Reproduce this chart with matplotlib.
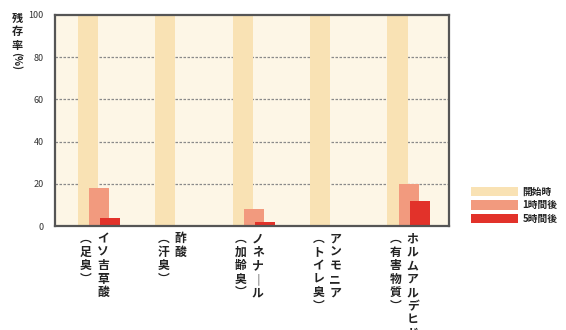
import matplotlib
matplotlib.use("Agg")
import matplotlib.pyplot as plt
import numpy as np

plt.rcParams['font.family'] = ['Noto Sans CJK JP', 'DejaVu Sans']

categories = ["イソ吉草酸", "酢酸", "ノネナール", "アンモニア", "ホルムアルデヒド"]
subtitles = ["(足臭)", "(汗臭)", "(加齢臭)", "(トイレ臭)", "(有害物質)"]
series_names = ["開始時", "1時間後", "5時間後"]
start_vals = [100, 100, 100, 100, 100]
hour1_vals = [18, 0, 8, 0, 20]
hour5_vals = [4, 0, 2, 0, 12]
yticks = [0, 20, 40, 60, 80, 100]

colors = ["#F9E2B4", "#F29A7E", "#E2322A"]

def vert(s):
    s = s.replace("(", "︵").replace(")", "︶").replace("ー", "｜")
    return "\n".join(list(s))

fig = plt.figure(figsize=(5.66, 3.30), dpi=100)
ax = fig.add_axes([55/566, 1-226/330, (449-55)/566, (226-15)/330])
ax.set_facecolor("#FDF6E6")

x = np.arange(len(categories))
w = 0.26
ax.bar(x - 0.145, start_vals, w, color=colors[0], zorder=3, label=series_names[0])
ax.bar(x, hour1_vals, w, color=colors[1], zorder=4, label=series_names[1])
ax.bar(x + 0.14, hour5_vals, w, color=colors[2], zorder=5, label=series_names[2])

ax.set_ylim(0, 100)
ax.set_xlim(-0.57, 4.52)
ax.set_yticks(yticks)
ax.set_yticklabels([str(t) for t in yticks], fontsize=6.5, color="#333333")
ax.tick_params(axis='y', length=0, pad=8)
ax.set_xticks([])
for t in [20, 40, 60, 80]:
    ax.axhline(t, color="#8a8a8a", lw=0.9, ls=(0, (2, 1.2)), zorder=2)
for s in ax.spines.values():
    s.set_color("#555555")
    s.set_linewidth(1.6)
    s.set_zorder(10)

# category labels (vertical writing)
for i, (c, sub) in enumerate(zip(categories, subtitles)):
    ax.text(i + 0.05, -3, vert(c), transform=ax.transData, ha='center', va='top',
            fontsize=8.5, linespacing=1.05, color="#222222", fontweight='bold', clip_on=False)
    ax.text(i - 0.17, -3, vert(sub), transform=ax.transData, ha='center', va='top',
            fontsize=8.5, linespacing=1.05, color="#222222", fontweight='bold', clip_on=False)

# y-axis label
fig.text(17/566, 1-12/330, "残\n存\n率", ha='center', va='top', fontsize=8,
         linespacing=1.05, color="#222222", fontweight='bold')
fig.text(17/566, 1-52/330, "(%)", ha='center', va='top', fontsize=7.5,
         rotation=270, color="#222222", fontweight='bold')

leg = fig.legend(loc='upper left', bbox_to_anchor=(466/566, 1-182/330), frameon=False,
                 fontsize=7, handlelength=4.8, handleheight=1.1, handletextpad=0.5,
                 labelspacing=0.35, borderpad=0)
for t in leg.get_texts():
    t.set_fontweight('bold')
    t.set_color("#222222")

fig.savefig("out.png", dpi=100)
